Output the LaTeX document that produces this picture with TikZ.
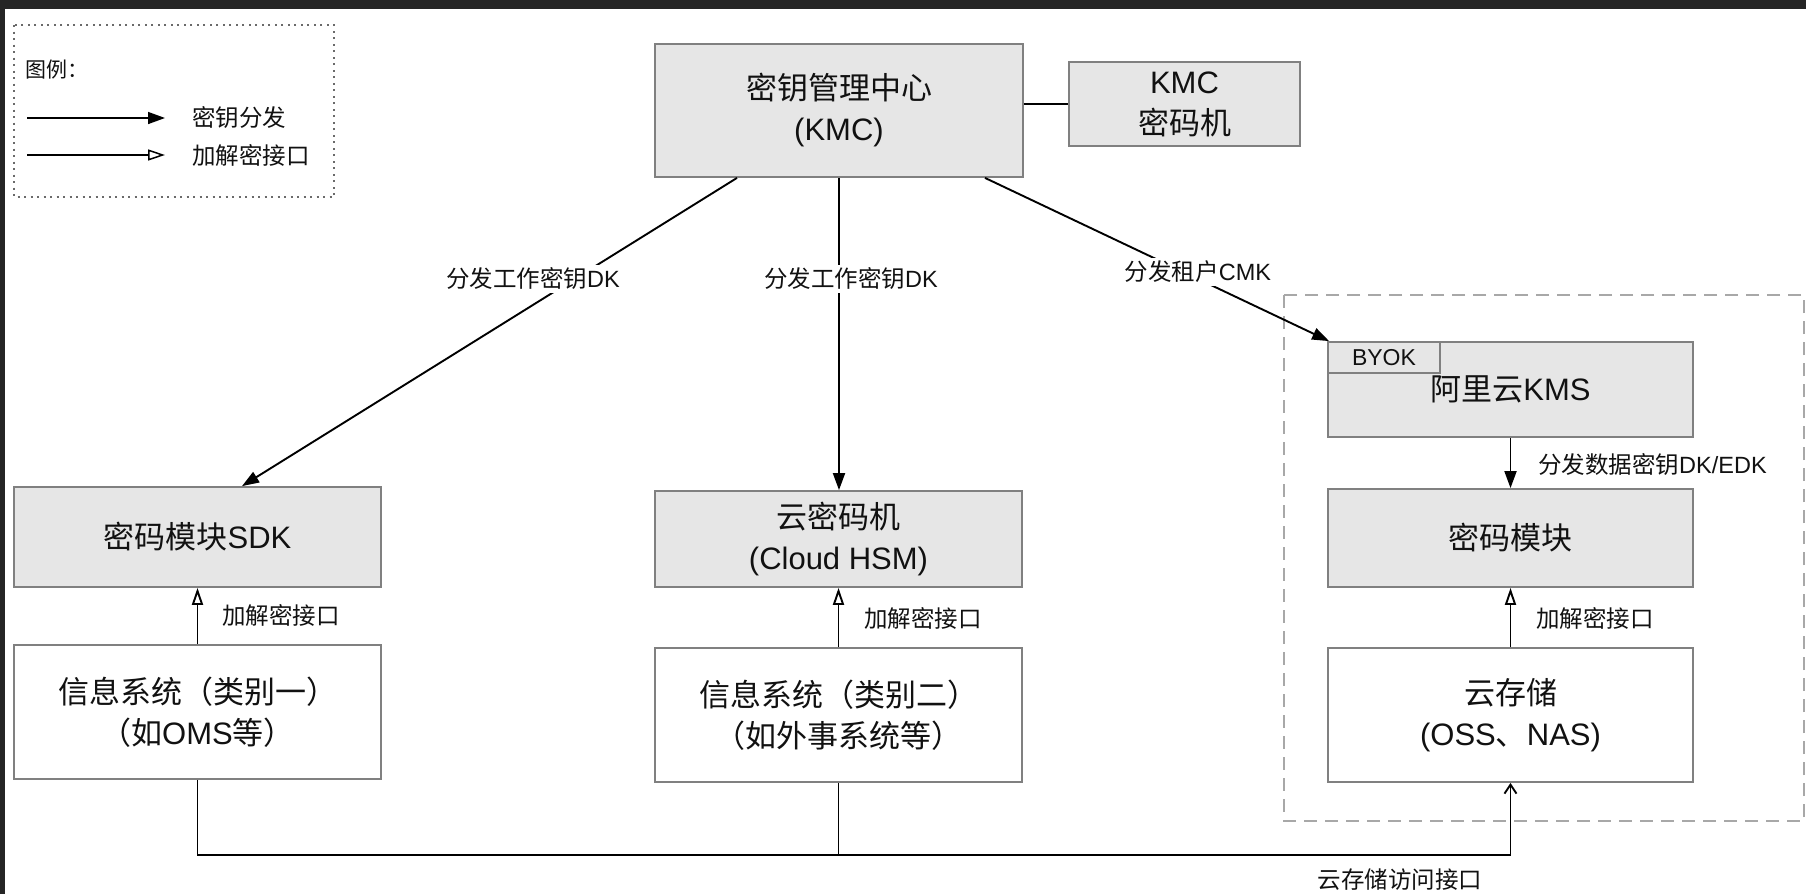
\documentclass[tikz,border=0pt]{standalone}
\usepackage{fontspec}
\setmainfont{Noto Sans CJK SC}
\newfontfamily\latfont{Liberation Sans}
\usetikzlibrary{arrows.meta,calc}
\definecolor{boxgray}{HTML}{808080}
\definecolor{fillgray}{HTML}{E6E6E6}
\definecolor{darkbar}{HTML}{252525}
\definecolor{txt}{HTML}{111111}
\definecolor{dashgray}{HTML}{A8A8A8}
\definecolor{legendgray}{HTML}{6A6A6A}
\newcommand\mainfs{\fontsize{31}{41}\selectfont}
\newcommand\lblfs{\fontsize{23.5}{28}\selectfont}
\newcommand\tabfs{\fontsize{23}{26}\selectfont}
\newcommand\latx[1]{{\latfont #1}}
\tikzset{
 graybox/.style={draw=boxgray, line width=1.8pt, fill=fillgray, inner sep=0pt, align=center, font=\mainfs, text=txt},
 whitebox/.style={graybox, fill=white},
 conn/.style={line width=1.9pt, draw=black},
 keyarrow/.style={conn, -{Triangle[length=17pt,width=12pt]}},
 ifarrow/.style={conn, -{Triangle[open,length=17pt,width=11pt,fill=white]}},
 accarrow/.style={conn, -{Straight Barb[length=9pt,width=12pt,line width=1.9pt]}},
 lbl/.style={font=\lblfs, text=txt, inner sep=3pt},
 onlbl/.style={lbl, fill=white},
}
\begin{document}
\begin{tikzpicture}[x=1pt,y=-1pt]
\path[use as bounding box, fill=white] (0,0) rectangle (1806,894);
% screenshot frame
\fill[darkbar] (0,0) rectangle (1806,9);
\fill[darkbar] (0,0) rectangle (5,894);

% legend
\draw[legendgray, line width=1.5pt, dash pattern=on 2pt off 4.5pt] (14,25) rectangle (334,197);
\node[anchor=west, font=\fontsize{21}{24}\selectfont, text=txt, inner sep=0pt] (legtitle) at (25,70) {图例：};
\coordinate (l1a) at (27,118);
\coordinate (l1b) at (165,118);
\coordinate (l2a) at (27,155);
\coordinate (l2b) at (165,155);
\draw[keyarrow, line width=1.5pt] (l1a) -- (l1b);
\draw[ifarrow, line width=1.5pt] (l2a) -- (l2b);
\node[lbl, anchor=west, inner sep=0pt] (leg1) at (192,118) {密钥分发};
\node[lbl, anchor=west, inner sep=0pt] (leg2) at (192,155) {加解密接口};

% dashed cloud region
\draw[dashgray, line width=1.8pt, dash pattern=on 13pt off 8pt] (1284,295) rectangle (1804,821);

% boxes
\node[graybox, minimum width=368pt, minimum height=133pt] (kmc) at (839,110.5) {密钥管理中心\\\latx{(KMC)}};
\node[graybox, minimum width=231pt, minimum height=84pt] (kmcm) at (1184.5,104) {\latx{KMC}\\密码机};
\node[graybox, minimum width=367pt, minimum height=100pt] (sdk) at (197.5,537) {密码模块\latx{SDK}};
\node[graybox, minimum width=367pt, minimum height=96pt] (hsm) at (838.5,539) {云密码机\\\latx{(Cloud HSM)}};
\node[graybox, minimum width=365pt, minimum height=95pt] (kms) at (1510.5,389.5) {阿里云\latx{KMS}};
\node[graybox, minimum width=112pt, minimum height=31pt, font=\tabfs, anchor=north west] (byok) at (kms.north west) {\latx{BYOK}};
\node[graybox, minimum width=365pt, minimum height=98pt] (mod) at (1510.5,538) {密码模块};
\node[whitebox, minimum width=367pt, minimum height=134pt] (sys1) at (197.5,712) {信息系统（类别一）\\（如\latx{OMS}等）};
\node[whitebox, minimum width=367pt, minimum height=134pt] (sys2) at (838.5,715) {信息系统（类别二）\\（如外事系统等）};
\node[whitebox, minimum width=365pt, minimum height=134pt] (oss) at (1510.5,715) {云存储\\\latx{(OSS}、\latx{NAS)}};

% connectors
\draw[conn] (kmcm.west -| kmc.east) -- (kmcm.west);
\draw[keyarrow] ([xshift=-102pt]kmc.south) -- ([xshift=44.5pt]sdk.north);
\draw[keyarrow] (kmc.south) -- (kmc.south |- hsm.north);
\draw[keyarrow] ([xshift=146pt]kmc.south) -- ([xshift=2pt]kms.north west);
\draw[keyarrow] (kms.south) -- (mod.north);
\draw[ifarrow] (sys1.north) -- (sdk.south);
\draw[ifarrow] (sys2.north) -- (sys2.north |- hsm.south);
\draw[ifarrow] (oss.north) -- (mod.south);
\coordinate (bus) at (0,855);
\draw[accarrow] (sys1.south) -- (sys1.south |- bus) -| (oss.south);
\draw[conn] (sys2.south) -- (sys2.south |- bus);

% labels
\node[onlbl] (l1) at (533,279) {分发工作密钥\latx{DK}};
\node[onlbl] (l2) at (851,279) {分发工作密钥\latx{DK}};
\node[onlbl] (l3) at (1198,272) {分发租户\latx{CMK}};
\node[lbl, anchor=west] (l4) at (1535,465) {分发数据密钥\latx{DK/EDK}};
\node[lbl, anchor=west] (l5) at (219,615) {加解密接口};
\node[lbl, anchor=west] (l6) at (861,618) {加解密接口};
\node[lbl, anchor=west] (l7) at (1533,618) {加解密接口};
\node[lbl] (l8) at (1400,880) {云存储访问接口};
\end{tikzpicture}
\end{document}
